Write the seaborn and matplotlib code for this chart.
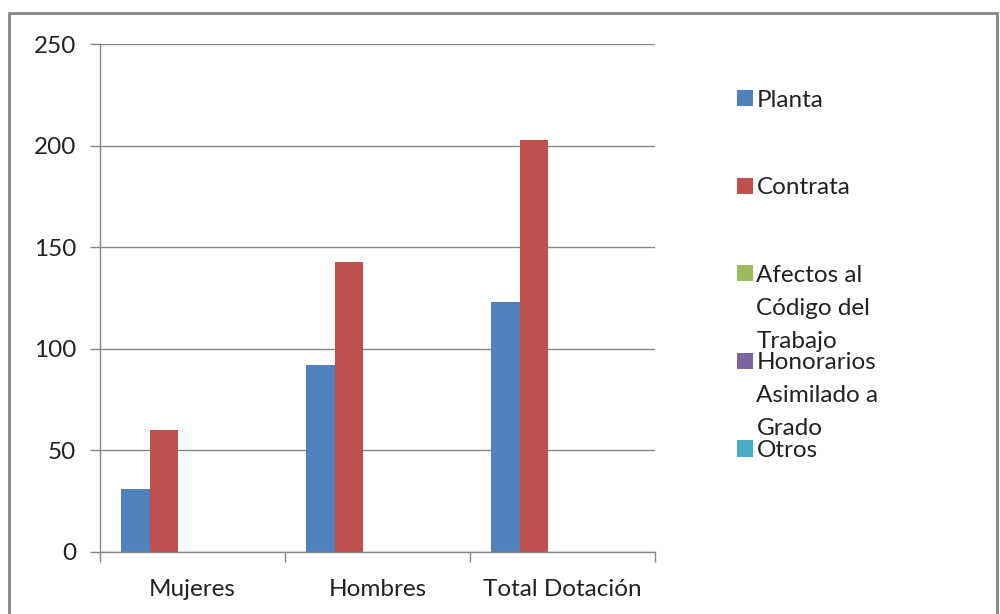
import pandas as pd
import matplotlib
matplotlib.use("Agg")
import matplotlib.pyplot as plt
import matplotlib.patches as mpatches
import seaborn as sns

# ─── Datos ────────────────────────────────────────────
categorias = ["Mujeres", "Hombres", "Total Dotación"]
series = ["Planta", "Contrata", "Afectos al Código del Trabajo",
          "Honorarios Asimilado a Grado", "Otros"]
planta = [31, 92, 123]
contrata = [60, 143, 203]
afectos = [0, 0, 0]
honorarios = [0, 0, 0]
otros = [0, 0, 0]

# etiquetas de leyenda partidas en líneas como en el original
leyenda_lineas = [["Planta"], ["Contrata"],
                  ["Afectos al", "Código del", "Trabajo"],
                  ["Honorarios", "Asimilado a", "Grado"], ["Otros"]]

COLORES = ["#4F81BD", "#C0504D", "#9BBB59", "#8064A2", "#4BACC6"]
GRIS = "#868686"
TEXTO = "#222222"
FS = 17.5

rows = []
for s, vals in zip(series, [planta, contrata, afectos, honorarios, otros]):
    for c, v in zip(categorias, vals):
        rows.append({"categoria": c, "serie": s, "valor": v})
df = pd.DataFrame(rows)

sns.set_theme(style="white")
plt.rcParams["font.family"] = ["Lato", "DejaVu Sans"]

fig = plt.figure(figsize=(10, 6.14), dpi=100)
ax = fig.add_axes([0.100, 0.101, 0.555, 0.827])

sns.barplot(data=df, x="categoria", y="valor", hue="serie",
            hue_order=series, order=categorias, palette=COLORES,
            width=5 / 6.5, saturation=1, linewidth=0, ax=ax)

handles, labels = ax.get_legend_handles_labels()
ax.get_legend().remove()

ax.set_ylim(0, 250)
ax.set_yticks([0, 50, 100, 150, 200, 250])
ax.set_xlim(-0.5, 2.5)
ax.set_xlabel("")
ax.set_ylabel("")
ax.yaxis.grid(True, color=GRIS, linewidth=1)
ax.set_axisbelow(True)
for side in ["top", "right"]:
    ax.spines[side].set_visible(False)
for side in ["left", "bottom"]:
    ax.spines[side].set_color(GRIS)
    ax.spines[side].set_linewidth(1)

ax.tick_params(axis="y", which="major", left=True, length=7, width=1,
               color=GRIS, pad=10, labelsize=FS, labelcolor=TEXTO)
ax.set_xticks([-0.5, 0.5, 1.5, 2.5], minor=True)
ax.tick_params(axis="x", which="minor", bottom=True, length=7, width=1,
               color=GRIS)
ax.tick_params(axis="x", which="major", length=0, pad=19.5, labelsize=FS,
               labelcolor=TEXTO)

# ─── Leyenda ──────────────────────────────────────────
primeras = [l[0] for l in leyenda_lineas]
leg = fig.legend(handles, primeras, loc="upper left",
                 bbox_to_anchor=(0.737, 0.854), frameon=False,
                 borderpad=0, borderaxespad=0,
                 fontsize=FS, labelspacing=2.74, handlelength=0.65,
                 handleheight=0.65, handletextpad=0.15, labelcolor=TEXTO)

fig.canvas.draw()
renderer = fig.canvas.get_renderer()
for txt, lineas in zip(leg.get_texts(), leyenda_lineas):
    bb = txt.get_window_extent(renderer)
    for i, linea in enumerate(lineas[1:], start=1):
        fig.text(bb.x0 / fig.bbox.width, (bb.y0 - 33 * i) / fig.bbox.height,
                 linea, fontsize=FS, color=TEXTO, ha="left", va="bottom")

# marco exterior
fig.patches.append(mpatches.Rectangle((0.009, -0.02), 0.988, 0.999,
                                      transform=fig.transFigure, fill=False,
                                      edgecolor=GRIS, linewidth=2))

fig.savefig("out.png", dpi=100)
